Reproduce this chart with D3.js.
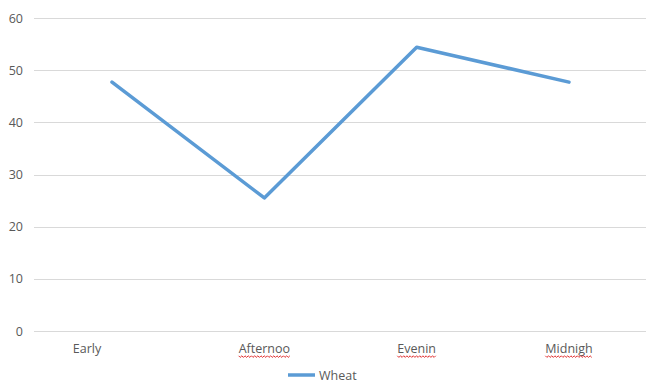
<!DOCTYPE html>
<html>
<head>
<meta charset="utf-8">
<script src="https://cdn.jsdelivr.net/npm/d3@7"></script>
<style>
  body { margin: 0; background: #fff; }
  text { font-family: "Open Sans", "Noto Sans", sans-serif; fill: #595959; }
</style>
</head>
<body>
<div id="chart"></div>
<script>
var categories = ["Early", "Afternoo", "Evenin", "Midnigh"];
var wheat = [47.7, 25.5, 54.4, 47.7];
var yTicks = [0, 10, 20, 30, 40, 50, 60];
var misspelled = ["Afternoo", "Evenin", "Midnigh"];

var width = 646, height = 385;

var svg = d3.select("#chart").append("svg")
  .attr("width", width)
  .attr("height", height);

var x = d3.scalePoint()
  .domain(categories)
  .range([112, 569]);

var y = d3.scaleLinear()
  .domain([0, 60])
  .range([331, 18]);

// gridlines
svg.append("g")
  .selectAll("line")
  .data(yTicks)
  .enter().append("line")
  .attr("x1", 34)
  .attr("x2", 646)
  .attr("y1", function(d) { return Math.round(y(d)) + 0.5; })
  .attr("y2", function(d) { return Math.round(y(d)) + 0.5; })
  .attr("stroke", "#d9d9d9")
  .attr("stroke-width", 1);

// y labels
svg.append("g")
  .selectAll("text")
  .data(yTicks)
  .enter().append("text")
  .attr("x", 23)
  .attr("y", function(d) { return y(d) + 4.5; })
  .attr("text-anchor", "end")
  .style("font-size", "12.5px")
  .text(function(d) { return d; });

// x labels
var xl = svg.append("g")
  .selectAll("g")
  .data(categories)
  .enter().append("g")
  .attr("transform", function(d, i) {
    var cx = i === 0 ? x(d) - 25 : x(d);
    return "translate(" + cx + ",353)";
  });

xl.append("text")
  .attr("text-anchor", "middle")
  .style("font-size", "12.5px")
  .text(function(d) { return d; });

// spell-check squiggles
xl.filter(function(d) { return misspelled.indexOf(d) >= 0; })
  .each(function(d) {
    var g = d3.select(this);
    var w = g.select("text").node().getComputedTextLength();
    var pts = [];
    for (var px = -w / 2, k = 0; px <= w / 2; px += 1.6, k++) {
      pts.push([px, 3 + (k % 2 ? 1.4 : -0.2)]);
    }
    g.append("path")
      .attr("d", d3.line()(pts))
      .attr("fill", "none")
      .attr("stroke", "#e03030")
      .attr("stroke-width", 1);
  });

// series line
svg.append("path")
  .datum(wheat)
  .attr("fill", "none")
  .attr("stroke", "#5b9bd5")
  .attr("stroke-width", 3.5)
  .attr("stroke-linejoin", "round")
  .attr("stroke-linecap", "round")
  .attr("d", d3.line()
    .x(function(d, i) { return x(categories[i]); })
    .y(function(d) { return y(d); }));

// legend
var lg = svg.append("g").attr("transform", "translate(288,375)");
lg.append("line")
  .attr("x1", 0).attr("x2", 27)
  .attr("y1", 0).attr("y2", 0)
  .attr("stroke", "#5b9bd5")
  .attr("stroke-width", 3.5);
lg.append("text")
  .attr("x", 31)
  .attr("y", 4.5)
  .style("font-size", "12.5px")
  .text("Wheat");
</script>
</body>
</html>
